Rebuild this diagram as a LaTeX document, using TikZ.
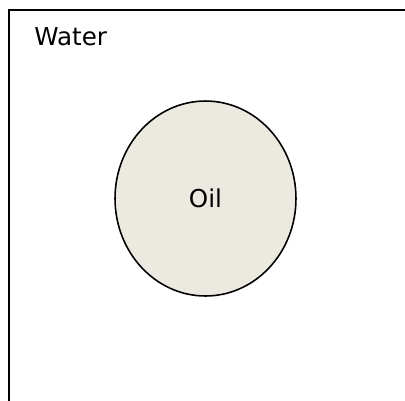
\documentclass[tikz,border=0pt]{standalone}
\usepackage{fontspec}
\setmainfont{DejaVu Sans}
\usetikzlibrary{shapes.geometric}
\definecolor{oilfill}{HTML}{ECEAE0}
\begin{document}
\begin{tikzpicture}[
		x=0.02cm, y=-0.02cm,
		tank/.style={draw, line width=1.4pt},
		drop/.style={draw, ellipse, fill=oilfill, line width=0.9pt, minimum width=3.62cm, minimum height=3.9cm, inner sep=0pt},
		every node/.style={font=\fontsize{14}{16}\selectfont}
		]
		
		\useasboundingbox (0,0) rectangle (405,400);
		\draw[tank] (9,10) rectangle (430,430);
		\node[anchor=west, inner sep=0pt] (water) at (34,37) {Water};
		\node[drop] (oil) at (205.5,198.5) {Oil};
		
	\end{tikzpicture}
\end{document}
